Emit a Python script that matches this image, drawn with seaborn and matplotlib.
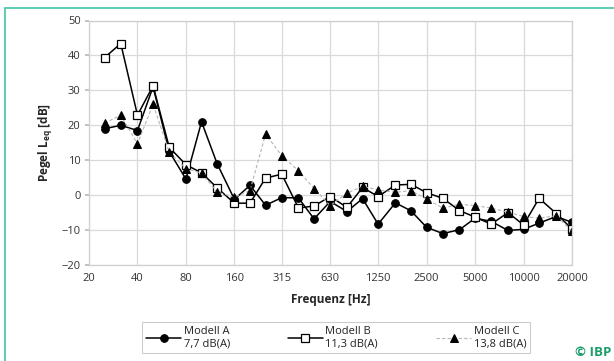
import numpy as np
import pandas as pd
import matplotlib
matplotlib.use("Agg")
import matplotlib.pyplot as plt
import seaborn as sns
from matplotlib.patches import Rectangle

# third-octave band centre frequencies [Hz]
freqs = [25, 31.5, 40, 50, 63, 80, 100, 125, 160, 200, 250, 315, 400, 500, 630,
         800, 1000, 1250, 1600, 2000, 2500, 3150, 4000, 5000, 6300, 8000, 10000,
         12500, 16000, 20000]

modell_a = [19.0, 20.0, 18.5, 31.0, 12.5, 4.6, 21.0, 9.0, -1.2, 2.8, -2.9, -0.7, -0.8, -6.8, -1.8,
            -4.7, -1.0, -8.3, -2.2, -4.5, -9.2, -11.0, -9.9, -6.6, -7.5, -10.1, -9.8,
            -8.0, -6.1, -7.8]
modell_b = [39.4, 43.4, 22.9, 31.3, 13.7, 8.7, 6.4, 2.1, -2.3, -2.3, 4.9, 6.0, -3.7, -3.1, -0.4,
            -3.5, 2.2, -0.4, 2.9, 3.1, 0.7, -0.9, -4.4, -6.3, -8.3, -5.0, -8.5,
            -0.9, -5.3, -9.7]
modell_c = [20.6, 22.9, 14.7, 26.0, 12.3, 7.6, 6.3, 0.9, -0.6, 1.3, 17.5, 11.3, 7.0, 1.9, -3.0,
            0.6, 2.5, 1.5, 0.8, 1.3, -1.1, -3.7, -2.6, -3.0, -3.7, -4.9, -6.1,
            -6.6, -5.9, -10.4]

legend_labels = ["Modell A\n7,7 dB(A)", "Modell B\n11,3 dB(A)", "Modell C\n13,8 dB(A)"]
xticks = [20, 40, 80, 160, 315, 630, 1250, 2500, 5000, 10000, 20000]
yticks = [-20, -10, 0, 10, 20, 30, 40, 50]

sns.set_theme(style="whitegrid")
plt.rcParams["font.family"] = ["Open Sans", "DejaVu Sans"]
plt.rcParams["mathtext.fontset"] = "custom"
plt.rcParams["mathtext.bf"] = "Open Sans:bold"
plt.rcParams["mathtext.rm"] = "Open Sans"

df = pd.DataFrame({"f": freqs, "A": modell_a, "B": modell_b, "C": modell_c})

fig = plt.figure(figsize=(6.14, 3.61), dpi=100)
ax = fig.add_axes([89 / 614, 1 - 265 / 361, (572 - 89) / 614, (265 - 20.5) / 361])

sns.lineplot(data=df, x="f", y="A", ax=ax, color="black", linewidth=1.1,
             marker="o", markersize=5.5, markerfacecolor="black",
             markeredgecolor="black", label=legend_labels[0])
sns.lineplot(data=df, x="f", y="B", ax=ax, color="black", linewidth=1.1,
             marker="s", markersize=6, markerfacecolor="white",
             markeredgecolor="black", markeredgewidth=0.9, label=legend_labels[1])
sns.lineplot(data=df, x="f", y="C", ax=ax, color="#b5b5b5", linewidth=0.8,
             linestyle=(0, (3, 2)), marker="^", markersize=5.5,
             markerfacecolor="black", markeredgecolor="black", label=legend_labels[2])

ax.set_xscale("log", base=2)
ax.set_xlim(20, 20000)
ax.set_ylim(-20, 50)
ax.set_xticks(xticks)
ax.set_xticklabels([str(t) for t in xticks])
ax.minorticks_off()
ax.set_yticks(yticks)
ax.set_facecolor("white")
ax.grid(True, color="#d9d9d9", linewidth=0.9)
for sp in ax.spines.values():
    sp.set_color("#cfcfcf")
    sp.set_linewidth(0.9)
ax.tick_params(axis="x", length=0, labelsize=8, colors="#333333", pad=6)
ax.tick_params(axis="y", length=3, color="#bbbbbb", labelsize=8, colors="#333333", pad=3, left=True)

ax.set_xlabel("Frequenz [Hz]", fontsize=8.5, fontweight="bold", labelpad=6)
ax.set_ylabel(r"Pegel L$_{\mathbf{eq}}$ [dB]", fontsize=8.5, fontweight="bold", labelpad=5)

handles, labels = ax.get_legend_handles_labels()
ax.get_legend().remove()
leg = fig.legend(handles, labels, ncol=3, loc="center",
                 bbox_to_anchor=(336 / 614, 1 - 337.5 / 361), fontsize=8,
                 frameon=True, fancybox=False, edgecolor="#cccccc",
                 handlelength=3.2, handletextpad=0.2, columnspacing=5.2,
                 borderpad=0.3, framealpha=1)
leg.get_frame().set_linewidth(0.8)
for t in leg.get_texts():
    t.set_color("#222222")

# teal frame and logo
fig.patches.append(Rectangle((5 / 614, -0.1), 1.2, 1 - 8 / 361 + 0.1,
                             transform=fig.transFigure, fill=False,
                             edgecolor="#4ec9b0", linewidth=1.3))
fig.text(611 / 614, 1 - 353 / 361, "© IBP", fontsize=9.5, fontweight="bold",
         color="#1a9c6b", ha="right", va="center")

fig.savefig("out.png", dpi=100)
